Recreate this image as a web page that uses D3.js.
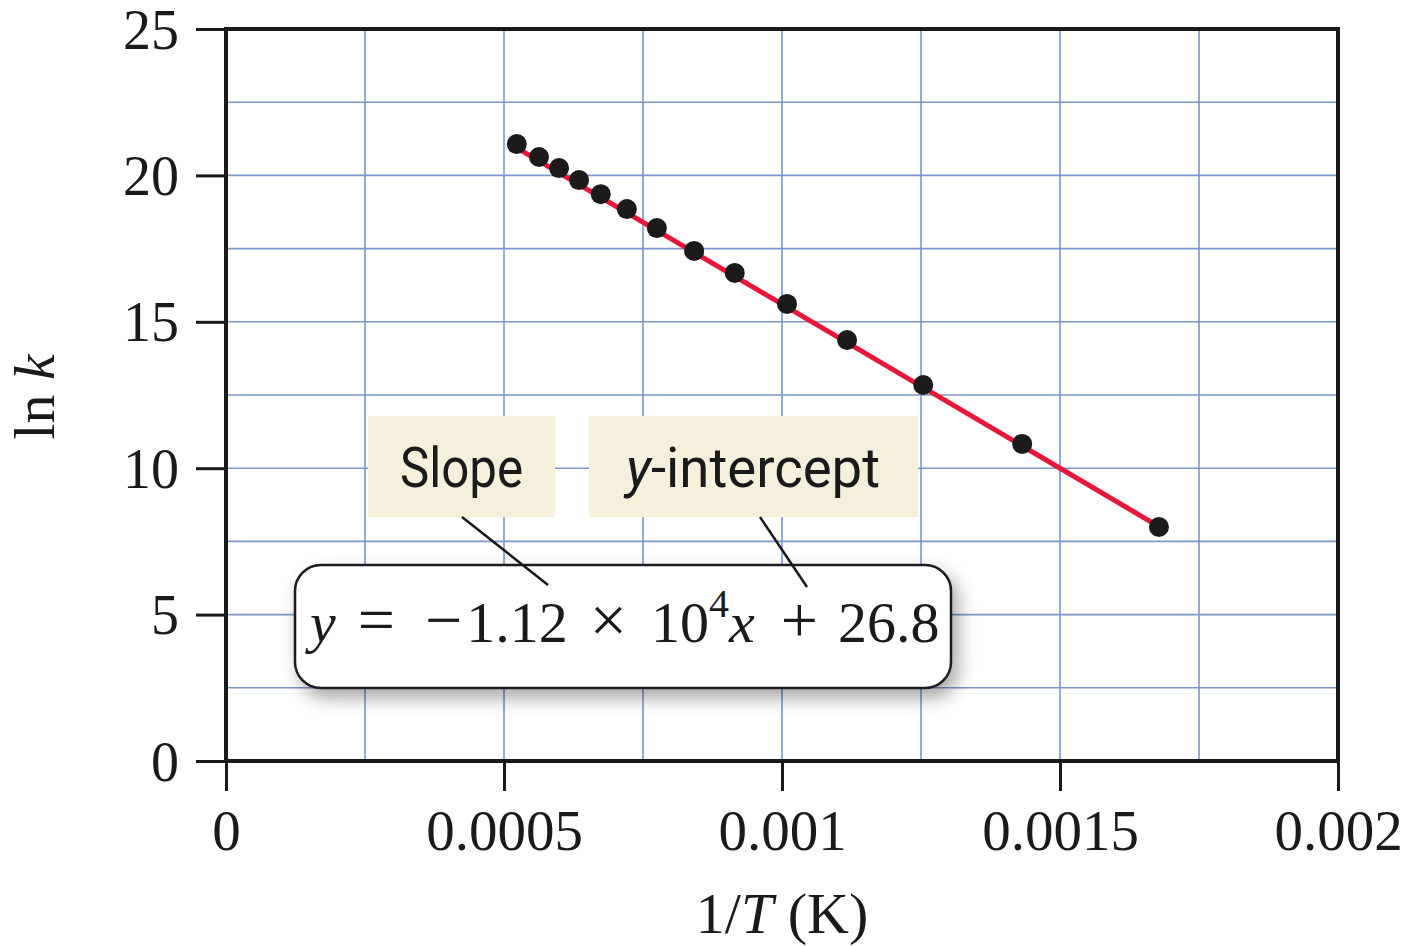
<!DOCTYPE html>
<html>
<head>
<meta charset="utf-8">
<script src="https://cdn.jsdelivr.net/npm/d3@7"></script>
<style>
  html, body { margin: 0; padding: 0; background: #fff; }
  svg { display: block; }
  .serif, .tick text { font-family: "Liberation Serif", "Times New Roman", Times, serif; fill: #1a1a1a; }
</style>
</head>
<body>
<div id="chart"></div>
<script>
// data
var invT = [0.000523, 0.000563, 0.000599, 0.000635, 0.000674, 0.000721, 0.000775,
            0.000842, 0.000915, 0.001009, 0.001117, 0.001254, 0.001432, 0.001678];
var lnK = [21.07, 20.63, 20.25, 19.84, 19.36, 18.85, 18.20,
           17.42, 16.67, 15.61, 14.38, 12.84, 10.83, 7.99];
var fitSlope = -1.12e4;
var fitIntercept = 26.8;
var xTicks = [0, 0.0005, 0.001, 0.0015, 0.002];
var xTickLabels = ["0", "0.0005", "0.001", "0.0015", "0.002"];
var yTicks = [0, 5, 10, 15, 20, 25];

var width = 1424, height = 946;
var m = {top: 29, right: 86, bottom: 185, left: 226};
var w = width - m.left - m.right;
var h = height - m.top - m.bottom;

var svg = d3.select("#chart").append("svg")
  .attr("width", width)
  .attr("height", height);

var defs = svg.append("defs");
var shadow = defs.append("filter").attr("id", "shadow")
  .attr("x", "-10%").attr("y", "-20%").attr("width", "130%").attr("height", "160%");
shadow.append("feDropShadow")
  .attr("dx", 6).attr("dy", 9).attr("stdDeviation", 9)
  .attr("flood-color", "#000").attr("flood-opacity", 0.35);

var x = d3.scaleLinear().domain([0, 0.002]).range([0, w]);
var y = d3.scaleLinear().domain([0, 25]).range([h, 0]);

var g = svg.append("g").attr("transform", "translate(" + m.left + "," + m.top + ")");

// grid
var gridX = d3.range(0, 0.002 + 1e-9, 0.00025);
var gridY = d3.range(0, 25 + 1e-9, 2.5);
g.append("g").selectAll("line").data(gridX).enter().append("line")
  .attr("x1", function(d) { return x(d); })
  .attr("x2", function(d) { return x(d); })
  .attr("y1", 0).attr("y2", h)
  .attr("stroke", "#7b96c8").attr("stroke-width", 1.6);
g.append("g").selectAll("line").data(gridY).enter().append("line")
  .attr("y1", function(d) { return y(d); })
  .attr("y2", function(d) { return y(d); })
  .attr("x1", 0).attr("x2", w)
  .attr("stroke", "#7b96c8").attr("stroke-width", 1.6);

// axes
var xAxis = d3.axisBottom(x).tickValues(xTicks)
  .tickFormat(function(d, i) { return xTickLabels[i]; })
  .tickSize(30).tickPadding(19);
var yAxis = d3.axisLeft(y).tickValues(yTicks).tickSize(30).tickPadding(17);

var gx = g.append("g").attr("transform", "translate(0," + h + ")").call(xAxis);
var gy = g.append("g").call(yAxis);
[gx, gy].forEach(function(a) {
  a.attr("font-family", null);
  a.select(".domain").remove();
  a.selectAll(".tick line").attr("stroke", "#1a1a1a").attr("stroke-width", 3);
  a.selectAll(".tick text").style("font-size", "57px");
});
gy.selectAll(".tick text").style("font-size", "56px").attr("dy", "0.34em");

// frame
g.append("rect")
  .attr("x", 0).attr("y", 0).attr("width", w).attr("height", h)
  .attr("fill", "none").attr("stroke", "#1a1a1a").attr("stroke-width", 4);

// fit line
var xr = d3.extent(invT);
g.append("line")
  .attr("x1", x(xr[0])).attr("y1", y(fitSlope * xr[0] + fitIntercept))
  .attr("x2", x(xr[1])).attr("y2", y(fitSlope * xr[1] + fitIntercept))
  .attr("stroke", "#e8173a").attr("stroke-width", 5);

// points
g.append("g").selectAll("circle").data(invT).enter().append("circle")
  .attr("cx", function(d) { return x(d); })
  .attr("cy", function(d, i) { return y(lnK[i]); })
  .attr("r", 10)
  .attr("fill", "#1c1a1b");

// annotation boxes
var ann = svg.append("g");
ann.append("rect").attr("x", 368).attr("y", 416).attr("width", 187).attr("height", 101).attr("fill", "#f5efdc");
ann.append("rect").attr("x", 589).attr("y", 416).attr("width", 329).attr("height", 101).attr("fill", "#f5efdc");

ann.append("text").attr("x", 400).attr("y", 487)
  .attr("textLength", 123).attr("lengthAdjust", "spacingAndGlyphs")
  .style("font-family", "Roboto, sans-serif").style("font-size", "56px").attr("fill", "#1a1a1a")
  .text("Slope");
var yi = ann.append("text").attr("x", 626).attr("y", 487)
  .attr("textLength", 254).attr("lengthAdjust", "spacingAndGlyphs")
  .style("font-family", "Roboto, sans-serif").style("font-size", "56px").attr("fill", "#1a1a1a");
yi.append("tspan").style("font-style", "italic").text("y");
yi.append("tspan").text("-intercept");

// equation box
ann.append("rect").attr("x", 295).attr("y", 565).attr("width", 656).attr("height", 123)
  .attr("rx", 26).attr("ry", 26)
  .attr("fill", "#fff").attr("stroke", "#1a1a1a").attr("stroke-width", 2.5)
  .attr("filter", "url(#shadow)");

// leader lines over the box
ann.append("line").attr("x1", 462).attr("y1", 517).attr("x2", 548).attr("y2", 585)
  .attr("stroke", "#1a1a1a").attr("stroke-width", 2.5);
ann.append("line").attr("x1", 760).attr("y1", 517).attr("x2", 807).attr("y2", 587)
  .attr("stroke", "#1a1a1a").attr("stroke-width", 2.5);

var eq = ann.append("text").attr("class", "serif").attr("x", 310).attr("y", 642)
  .style("font-size", "58px");
eq.append("tspan").style("font-style", "italic").text("y");
eq.append("tspan").attr("dx", 22).style("font-size", "66px").text("=");
eq.append("tspan").attr("dx", 30).style("font-size", "66px").text("\u2212");
eq.append("tspan").attr("dx", 4).text("1.12");
eq.append("tspan").attr("dx", 22).style("font-size", "66px").text("\u00d7");
eq.append("tspan").attr("dx", 24).text("10");
eq.append("tspan").attr("dy", -25).style("font-size", "40px").text("4");
eq.append("tspan").attr("dy", 25).style("font-style", "italic").text("x");
eq.append("tspan").attr("dx", 26).style("font-size", "66px").text("+");
eq.append("tspan").attr("dx", 20).text("26.8");

// axis titles
var xl = svg.append("text").attr("class", "serif").attr("x", m.left + x(0.001)).attr("y", 933)
  .attr("text-anchor", "middle").style("font-size", "58px");
xl.append("tspan").text("1/");
xl.append("tspan").style("font-style", "italic").text("T");
xl.append("tspan").text(" (K)");

var yl = svg.append("text").attr("class", "serif")
  .attr("transform", "translate(54," + (m.top + y(12.5) + 2) + ") rotate(-90)")
  .attr("text-anchor", "middle").style("font-size", "58px");
yl.append("tspan").text("ln ");
yl.append("tspan").style("font-style", "italic").text("k");
</script>
</body>
</html>
